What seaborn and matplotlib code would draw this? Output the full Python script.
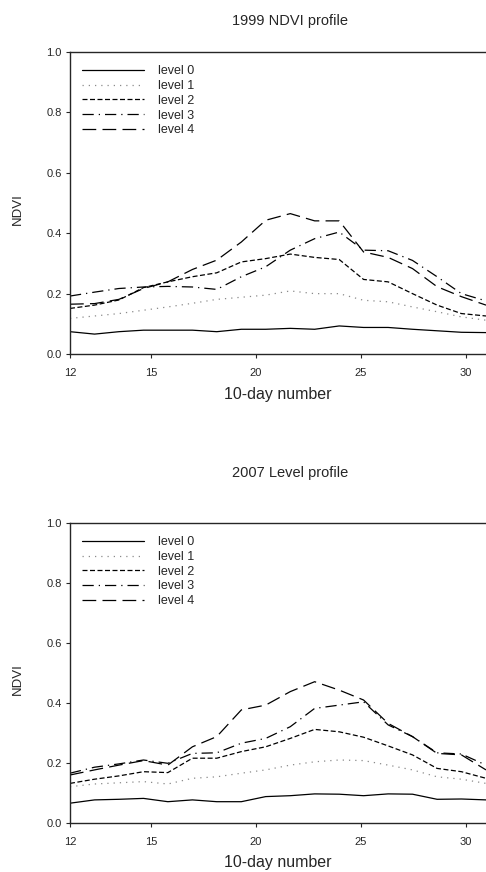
import numpy as np
import pandas as pd
import matplotlib
matplotlib.use('Agg')
import matplotlib.pyplot as plt
import seaborn as sns

sns.set_style('ticks')
plt.rcParams['font.family'] = ['Liberation Sans', 'DejaVu Sans']

# 10-day positions as they sit on the printed axis (18 samples per profile)
dekads = [11.14, 12.31, 13.47, 14.64, 15.80, 16.97, 18.13, 19.30, 20.46,
          21.63, 22.79, 23.96, 25.12, 26.29, 27.45, 28.62, 29.78, 30.95]
levels = ['level 0', 'level 1', 'level 2', 'level 3', 'level 4']

# 1999 NDVI profile
ndvi_1999_l0 = [0.074, 0.066, 0.074, 0.079, 0.079, 0.079, 0.074, 0.082, 0.082,
                0.085, 0.082, 0.093, 0.088, 0.088, 0.082, 0.077, 0.072, 0.071]
ndvi_1999_l1 = [0.118, 0.126, 0.134, 0.145, 0.156, 0.168, 0.181, 0.188, 0.195,
                0.209, 0.200, 0.200, 0.178, 0.173, 0.156, 0.140, 0.123, 0.112]
ndvi_1999_l2 = [0.151, 0.162, 0.179, 0.220, 0.239, 0.256, 0.269, 0.305, 0.316,
                0.331, 0.320, 0.313, 0.247, 0.239, 0.200, 0.162, 0.134, 0.126]
ndvi_1999_l3 = [0.192, 0.205, 0.217, 0.222, 0.224, 0.222, 0.214, 0.256, 0.289,
                0.344, 0.382, 0.404, 0.344, 0.342, 0.310, 0.256, 0.200, 0.176]
ndvi_1999_l4 = [0.165, 0.167, 0.181, 0.217, 0.239, 0.280, 0.311, 0.371, 0.443,
                0.465, 0.441, 0.441, 0.338, 0.320, 0.283, 0.223, 0.190, 0.162]

# 2007 Level profile
ndvi_2007_l0 = [0.066, 0.077, 0.079, 0.082, 0.071, 0.077, 0.071, 0.071, 0.088,
                0.091, 0.097, 0.096, 0.091, 0.097, 0.096, 0.079, 0.080, 0.077]
ndvi_2007_l1 = [0.121, 0.130, 0.134, 0.138, 0.130, 0.149, 0.154, 0.166, 0.177,
                0.193, 0.204, 0.210, 0.208, 0.193, 0.177, 0.154, 0.146, 0.132]
ndvi_2007_l2 = [0.132, 0.146, 0.157, 0.171, 0.168, 0.216, 0.216, 0.238, 0.254,
                0.282, 0.312, 0.304, 0.286, 0.257, 0.227, 0.182, 0.171, 0.149]
ndvi_2007_l3 = [0.166, 0.186, 0.197, 0.210, 0.199, 0.232, 0.234, 0.266, 0.282,
                0.321, 0.382, 0.393, 0.404, 0.327, 0.288, 0.234, 0.230, 0.193]
ndvi_2007_l4 = [0.160, 0.177, 0.193, 0.208, 0.193, 0.254, 0.288, 0.377, 0.393,
                0.438, 0.471, 0.443, 0.410, 0.332, 0.288, 0.232, 0.227, 0.177]

x_ticks = [11.14, 15, 20, 25, 30]
x_tick_labels = ['12', '15', '20', '25', '30']
y_ticks = [0.0, 0.2, 0.4, 0.6, 0.8, 1.0]

dash_map = {'level 0': '', 'level 1': (1, 4), 'level 2': (4, 2),
            'level 3': (9, 4, 1, 4), 'level 4': (11, 5)}
color_map = {'level 0': 'black', 'level 1': '#8a8a8a', 'level 2': 'black',
             'level 3': 'black', 'level 4': 'black'}


def to_long(series):
    frames = []
    for lvl, vals in zip(levels, series):
        frames.append(pd.DataFrame({'dekad': dekads, 'ndvi': vals, 'level': lvl}))
    return pd.concat(frames, ignore_index=True)


def draw_panel(ax, df, title, title_y):
    sns.lineplot(data=df, x='dekad', y='ndvi', hue='level', style='level',
                 palette=color_map, dashes=dash_map, linewidth=0.9, ax=ax)
    ax.set_xlim(11.14, 30.95)
    ax.set_ylim(0, 1.0)
    ax.set_xticks(x_ticks)
    ax.set_xticklabels(x_tick_labels)
    ax.set_yticks(y_ticks)
    ax.set_yticklabels([f'{v:.1f}' for v in y_ticks])
    ax.tick_params(labelsize=8, length=3, width=0.8)
    ax.tick_params(axis='x', pad=7)
    ax.tick_params(axis='y', pad=3)
    ax.spines['right'].set_visible(False)
    for s in ['left', 'bottom', 'top']:
        ax.spines[s].set_linewidth(1.0)
    ax.set_xlabel('10-day number', fontsize=11.5)
    ax.xaxis.set_label_coords(0.5, -0.108)
    ax.set_ylabel('NDVI', fontsize=9.5)
    ax.yaxis.set_label_coords(-0.11, 0.48)
    ax.legend(loc='upper left', frameon=False, fontsize=9, handlelength=5.0,
              handletextpad=1.05, labelspacing=0.22, borderpad=0,
              borderaxespad=0, bbox_to_anchor=(12 / 416, 0.956))
    fig.text(0.597, title_y, title, ha='center', va='center', fontsize=10.5)


fig = plt.figure(figsize=(4.86, 8.72), dpi=100)
ax1 = fig.add_axes([0.144, 0.594, 0.856, 0.3463])
ax2 = fig.add_axes([0.144, 0.0562, 0.856, 0.344])

draw_panel(ax1, to_long([ndvi_1999_l0, ndvi_1999_l1, ndvi_1999_l2,
                         ndvi_1999_l3, ndvi_1999_l4]),
           '1999 NDVI profile', 1 - 21 / 872)
draw_panel(ax2, to_long([ndvi_2007_l0, ndvi_2007_l1, ndvi_2007_l2,
                         ndvi_2007_l3, ndvi_2007_l4]),
           '2007 Level profile', 1 - 473 / 872)

fig.savefig('out.png', dpi=100)
